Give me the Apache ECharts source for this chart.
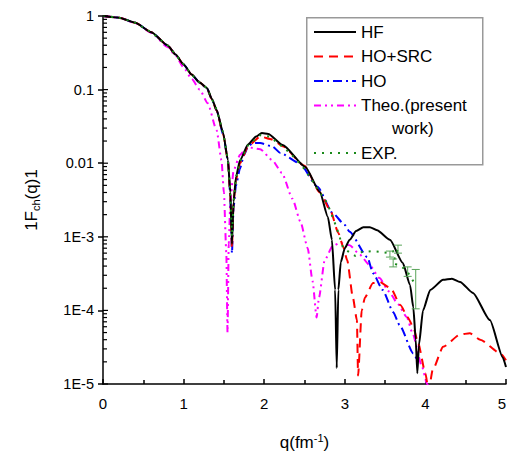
<!DOCTYPE html>
<html>
<head>
<meta charset="utf-8">
<script src="https://cdn.jsdelivr.net/npm/echarts@6/dist/echarts.min.js"></script>
<style>html,body{margin:0;padding:0;background:#fff;}#c{width:507px;height:458px;}</style>
</head>
<body>
<div id="c"></div>
<script>
// ---- data ----
const seriesNames = ['HF', 'HO+SRC', 'HO', 'Theo.(present work)', 'EXP.'];

const qHF = [0,0.2,0.4,0.6,0.8,0.9,1.0,1.1,1.2,1.29,1.35,1.41,1.49,1.55,1.58,1.6,1.62,1.65,1.7,1.8,1.9,1.97,2.05,2.23,2.51,2.69,2.79,2.84,2.88,2.9,2.92,2.95,3.0,3.06,3.14,3.23,3.31,3.4,3.56,3.72,3.81,3.85,3.88,3.9,3.92,3.97,4.06,4.22,4.33,4.43,4.59,4.8,4.96,5.0];
const vHF = [1,0.95,0.81,0.60,0.40,0.30,0.22,0.16,0.125,0.105,0.075,0.053,0.026,0.011,0.004,0.0008,0.003,0.0065,0.011,0.018,0.023,0.0257,0.025,0.0177,0.0089,0.0041,0.00186,0.00091,0.00019,0.0000165,0.00019,0.00045,0.0007,0.00091,0.0012,0.00135,0.00135,0.00123,0.00091,0.00044,0.00022,0.00011,0.00004,0.000014,0.000034,0.0001,0.00019,0.00026,0.00027,0.000244,0.000173,0.000074,0.000023,0.000017];

const qSRC = [0,0.2,0.4,0.6,0.8,0.9,1.0,1.1,1.2,1.29,1.35,1.41,1.49,1.55,1.58,1.6,1.62,1.65,1.7,1.8,1.95,2.1,2.23,2.5,2.69,2.82,2.92,2.98,3.03,3.1,3.15,3.165,3.21,3.25,3.35,3.43,3.57,3.69,3.78,3.85,3.91,4.0,4.04,4.09,4.22,4.43,4.55,4.68,4.93,5.0];
const vSRC = [1,0.95,0.81,0.60,0.40,0.30,0.22,0.16,0.125,0.104,0.074,0.052,0.025,0.011,0.0035,0.0007,0.003,0.006,0.010,0.017,0.023,0.021,0.017,0.0092,0.0040,0.0023,0.00113,0.00073,0.00048,0.00015,0.000074,0.000013,0.0001,0.00015,0.000235,0.000244,0.0002,0.000118,0.000081,0.000059,0.000036,0.000014,0.000008,0.0000155,0.000032,0.000047,0.000049,0.00004,0.000026,0.000021];

const qHO = [0,0.2,0.4,0.6,0.8,0.9,1.0,1.1,1.2,1.29,1.35,1.41,1.49,1.55,1.58,1.6,1.62,1.65,1.7,1.75,1.8,1.86,1.95,2.1,2.2,2.44,2.66,2.85,3.0,3.06,3.28,3.35,3.47,3.6,3.68,3.85,3.9];
const vHO = [1,0.95,0.81,0.60,0.40,0.30,0.22,0.16,0.124,0.104,0.074,0.052,0.025,0.011,0.0035,0.0006,0.0025,0.005,0.0085,0.013,0.017,0.0188,0.0188,0.0169,0.0138,0.0100,0.0048,0.0021,0.00145,0.00117,0.00053,0.00032,0.00019,0.000095,0.000063,0.000026,0.000021];

const qTheo = [0,0.2,0.4,0.6,0.8,0.9,1.0,1.1,1.2,1.3,1.41,1.47,1.5,1.53,1.545,1.56,1.58,1.62,1.7,1.79,1.95,2.1,2.22,2.35,2.45,2.54,2.6,2.65,2.68,2.75,2.85,2.94,3.06,3.18,3.31,3.43,3.55,3.65,3.77,3.84,3.96,4.02,4.06];
const vTheo = [1,0.95,0.80,0.59,0.38,0.29,0.20,0.14,0.10,0.065,0.028,0.011,0.004,0.0006,0.00005,0.0008,0.003,0.008,0.013,0.0165,0.0155,0.011,0.0074,0.0033,0.0016,0.0007,0.00025,0.00008,0.00015,0.00048,0.00075,0.00083,0.00077,0.00058,0.00041,0.000275,0.00018,0.000126,0.000081,0.000049,0.000017,0.00001,0.000008];

const qEXP = [0,0.2,0.4,0.6,0.8,0.9,1.0,1.1,1.2,1.29,1.35,1.41,1.49,1.55,1.58,1.6,1.62,1.65,1.7,1.8,1.95,2.07,2.32,2.48,2.78,2.90,2.98,3.13,3.21,3.34,3.46,3.56,3.66,3.60,3.71,3.78,3.87];
const vEXP = [1,0.95,0.81,0.60,0.40,0.30,0.22,0.16,0.125,0.105,0.075,0.053,0.026,0.011,0.004,0.001,0.003,0.0062,0.0105,0.0175,0.024,0.023,0.0138,0.0089,0.0029,0.00132,0.0007,0.00055,0.00062,0.00064,0.00062,0.0006,0.00069,0.00044,0.00039,0.00033,0.00023];

const errQ = [3.56,3.66,3.60,3.78,3.88];
const errLo = [0.00053,0.0006,0.00039,0.00029,0.000105];
const errHi = [0.00064,0.00077,0.0005,0.00039,0.00036];

const xTicks = [0,1,2,3,4,5];
const yDecades = [1e-5,1e-4,1e-3,1e-2,1e-1,1];

// ---- build ----
const zip = (a, b) => a.map((x, i) => [x, b[i]]);
const FONT = '"Liberation Sans", Arial, sans-serif';

const minorVals = [];
for (let d = 0; d < yDecades.length - 1; d++) {
  for (let k = 2; k <= 9; k++) minorVals.push([0, +(yDecades[d] * k).toPrecision(3), 0]);
}
for (const d of yDecades) minorVals.push([0, d, 1]);

function lineSeries(name, q, v, color, type, z) {
  return {
    name, type: 'line', data: zip(q, v), symbol: 'none', showSymbol: false,
    smooth: 0.2, smoothMonotone: 'x', z: z,
    lineStyle: { color, width: 2, type },
    itemStyle: { color },
    animation: false
  };
}

const legendCommon = {
  orient: 'vertical', left: 313, padding: 0,
  itemWidth: 42, itemHeight: 14,
  itemStyle: { color: 'rgba(0,0,0,0)', borderWidth: 0, opacity: 0 },
  textStyle: { fontSize: 17, fontFamily: FONT, color: '#000', lineHeight: 20 },
  selectedMode: false
};

const chart = echarts.init(document.getElementById('c'), null, { renderer: 'svg' });
chart.setOption({
  animation: false,
  backgroundColor: '#fff',
  grid: { left: 103, right: 1, top: 16, bottom: 74, containLabel: false, outerBoundsMode: 'none' },
  xAxis: {
    type: 'value', min: xTicks[0], max: xTicks[xTicks.length - 1], interval: 1,
    axisLine: { lineStyle: { color: '#000', width: 1.5 } },
    axisTick: { inside: true, length: 5, lineStyle: { color: '#000', width: 1.5 } },
    minorTick: { show: true, splitNumber: 2, length: 4, lineStyle: { color: '#000', width: 1.5 } },
    splitLine: { show: false },
    axisLabel: { color: '#000', fontSize: 15, fontFamily: FONT, margin: 12, alignMaxLabel: 'right' },
    name: '{a|q(fm}{s|-1}{a|)}',
    nameLocation: 'middle', nameGap: 48,
    nameTextStyle: {
      rich: {
        a: { fontSize: 17, fontFamily: FONT, color: '#000', lineHeight: 20 },
        s: { fontSize: 11, fontFamily: FONT, color: '#000', lineHeight: 12, verticalAlign: 'top' }
      }
    }
  },
  yAxis: {
    type: 'log', logBase: 10, min: yDecades[0], max: yDecades[yDecades.length - 1],
    axisLine: { lineStyle: { color: '#000', width: 1.5 } },
    axisTick: { inside: false, length: 5, lineStyle: { color: '#000', width: 1.5 } },
    splitLine: { show: false },
    axisLabel: {
      color: '#000', fontSize: 14.5, fontFamily: FONT, margin: 9,
      formatter: function (v) {
        const e = Math.round(Math.log10(v));
        if (e === 0) return '1';
        if (e === -1) return '0.1';
        if (e === -2) return '0.01';
        return '1E' + e;
      }
    },
    name: '{a|1F}{s|ch}{a|(q)1}',
    nameLocation: 'middle', nameGap: 62,
    nameTextStyle: {
      rich: {
        a: { fontSize: 17, fontFamily: FONT, color: '#000', lineHeight: 20 },
        s: { fontSize: 11, fontFamily: FONT, color: '#000', lineHeight: 12, verticalAlign: 'bottom' }
      }
    }
  },
  legend: [
    Object.assign({}, legendCommon, {
      data: seriesNames.slice(0, 4), top: 22, itemGap: 4.5,
      formatter: n => n === 'Theo.(present work)' ? 'Theo.(present' : n
    }),
    Object.assign({}, legendCommon, { data: seriesNames.slice(4), top: 143 })
  ],
  graphic: [
    { type: 'rect', left: 306, top: 17, z: 0, silent: true,
      shape: { width: 176, height: 147 },
      style: { fill: '#fff', stroke: '#999', lineWidth: 1.5 } },
    { type: 'text', left: 392, top: 120, z: 10, silent: true,
      style: { text: 'work)', fontSize: 17, fontFamily: FONT, fill: '#000' } }
  ],
  series: [
    lineSeries(seriesNames[3], qTheo, vTheo, '#ff00ff', [7, 4, 2, 4, 2, 4], 2),
    lineSeries(seriesNames[2], qHO, vHO, '#0000ff', [9, 4, 2, 4], 3),
    lineSeries(seriesNames[1], qSRC, vSRC, '#ff0000', [9, 6], 4),
    lineSeries(seriesNames[0], qHF, vHF, '#000000', 'solid', 5),
    {
      name: seriesNames[4], type: 'line', data: zip(qEXP, vEXP), symbol: 'none', showSymbol: false,
      z: 6, lineStyle: { color: '#1a8a1a', width: 2, type: [2, 6] }, itemStyle: { color: '#1a8a1a' }
    },
    {
      name: 'err', type: 'custom', z: 7, silent: true,
      data: errQ.map((q, i) => [q, errLo[i], errHi[i]]),
      encode: { x: 0, y: [1, 2] },
      renderItem: function (params, api) {
        const lo = api.coord([api.value(0), api.value(1)]);
        const hi = api.coord([api.value(0), api.value(2)]);
        const st = { stroke: '#5aa55a', lineWidth: 1, fill: 'none' };
        return { type: 'group', children: [
          { type: 'line', shape: { x1: lo[0], y1: lo[1], x2: hi[0], y2: hi[1] }, style: st },
          { type: 'line', shape: { x1: lo[0] - 4, y1: lo[1], x2: lo[0] + 4, y2: lo[1] }, style: st },
          { type: 'line', shape: { x1: hi[0] - 4, y1: hi[1], x2: hi[0] + 4, y2: hi[1] }, style: st }
        ]};
      }
    },
    {
      name: 'yminor', type: 'custom', z: 8, silent: true, clip: false,
      data: minorVals, encode: { x: 0, y: 1 },
      renderItem: function (params, api) {
        const p = api.coord([0, api.value(1)]);
        const len = api.value(2) ? 5 : 4;
        return { type: 'line', shape: { x1: p[0], y1: p[1], x2: p[0] + len, y2: p[1] },
          style: { stroke: '#000', lineWidth: 1.2 } };
      }
    }
  ]
});
</script>
</body>
</html>
